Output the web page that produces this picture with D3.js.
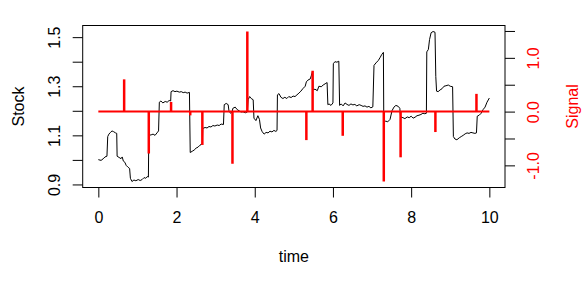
<!DOCTYPE html>
<html>
<head>
<meta charset="utf-8">
<script src="https://cdn.jsdelivr.net/npm/d3@7"></script>
<style>
  body { margin: 0; background: #fff; }
  text { font-family: "Liberation Sans", Arial, sans-serif; font-size: 16px; }
</style>
</head>
<body>
<svg></svg>
<script>
// stock price path, [time, value]
const stockSeries = [
  [0.00, 1.001], [0.07, 0.998], [0.12, 1.004], [0.17, 1.012], [0.22, 1.015], [0.24, 1.095],
  [0.27, 1.105], [0.31, 1.112], [0.35, 1.118], [0.39, 1.115], [0.44, 1.110], [0.47, 1.108],
  [0.48, 1.015], [0.53, 1.010], [0.58, 1.005], [0.61, 1.012], [0.64, 0.995], [0.68, 0.990],
  [0.71, 0.978], [0.76, 0.970], [0.80, 0.965], [0.82, 0.925], [0.86, 0.912], [0.91, 0.918],
  [0.96, 0.915], [1.02, 0.920], [1.07, 0.916], [1.12, 0.920], [1.17, 0.928], [1.21, 0.925],
  [1.25, 0.932], [1.28, 0.930], [1.29, 1.100], [1.35, 1.102], [1.40, 1.105], [1.45, 1.100],
  [1.50, 1.110], [1.54, 1.118], [1.56, 1.235], [1.60, 1.240], [1.65, 1.232], [1.71, 1.238],
  [1.76, 1.235], [1.81, 1.242], [1.85, 1.240], [1.86, 1.278], [1.91, 1.282], [1.96, 1.278],
  [2.01, 1.280], [2.07, 1.276], [2.12, 1.278], [2.17, 1.274], [2.22, 1.276], [2.27, 1.272],
  [2.33, 1.275], [2.35, 1.030], [2.40, 1.035], [2.45, 1.040], [2.50, 1.048], [2.55, 1.052],
  [2.60, 1.060], [2.66, 1.066], [2.67, 1.128], [2.73, 1.132], [2.78, 1.130], [2.83, 1.136],
  [2.88, 1.134], [2.93, 1.140], [2.98, 1.138], [3.04, 1.142], [3.09, 1.140], [3.14, 1.146],
  [3.20, 1.144], [3.22, 1.225], [3.27, 1.230], [3.32, 1.225], [3.34, 1.200], [3.38, 1.190],
  [3.42, 1.195], [3.44, 1.210], [3.50, 1.215], [3.55, 1.205], [3.60, 1.200], [3.65, 1.195],
  [3.70, 1.196], [3.76, 1.192], [3.81, 1.195], [3.83, 1.245], [3.87, 1.258], [3.91, 1.250],
  [3.96, 1.245], [3.98, 1.170], [4.03, 1.160], [4.08, 1.180], [4.12, 1.165], [4.15, 1.130],
  [4.19, 1.115], [4.24, 1.105], [4.29, 1.112], [4.34, 1.110], [4.39, 1.117], [4.44, 1.114],
  [4.49, 1.120], [4.54, 1.116], [4.57, 1.120], [4.58, 1.265], [4.62, 1.270], [4.67, 1.255],
  [4.72, 1.250], [4.77, 1.255], [4.82, 1.250], [4.87, 1.258], [4.93, 1.254], [4.98, 1.260],
  [5.03, 1.258], [5.08, 1.265], [5.13, 1.272], [5.18, 1.280], [5.23, 1.290], [5.29, 1.300],
  [5.32, 1.318], [5.36, 1.325], [5.42, 1.330], [5.45, 1.345], [5.48, 1.362], [5.49, 1.285],
  [5.54, 1.288], [5.60, 1.282], [5.64, 1.300], [5.70, 1.298], [5.75, 1.305], [5.80, 1.310],
  [5.85, 1.315], [5.87, 1.225], [5.90, 1.228], [5.95, 1.222], [6.00, 1.232], [6.01, 1.392],
  [6.05, 1.400], [6.10, 1.398], [6.15, 1.402], [6.17, 1.222], [6.21, 1.228], [6.26, 1.220],
  [6.31, 1.232], [6.36, 1.226], [6.41, 1.222], [6.46, 1.228], [6.51, 1.224], [6.56, 1.226],
  [6.61, 1.220], [6.67, 1.225], [6.72, 1.222], [6.77, 1.218], [6.82, 1.220], [6.87, 1.215],
  [6.92, 1.218], [6.97, 1.212], [7.02, 1.216], [7.05, 1.385], [7.10, 1.395], [7.16, 1.405],
  [7.21, 1.418], [7.25, 1.430], [7.29, 1.438], [7.30, 1.152], [7.35, 1.158], [7.40, 1.155],
  [7.46, 1.165], [7.51, 1.200], [7.56, 1.215], [7.61, 1.222], [7.67, 1.218], [7.71, 1.210],
  [7.73, 1.175], [7.79, 1.172], [7.84, 1.168], [7.90, 1.175], [7.95, 1.172], [8.00, 1.178],
  [8.05, 1.170], [8.10, 1.174], [8.15, 1.180], [8.20, 1.182], [8.25, 1.185], [8.30, 1.190],
  [8.35, 1.188], [8.39, 1.190], [8.40, 1.440], [8.44, 1.450], [8.47, 1.490], [8.51, 1.518],
  [8.56, 1.523], [8.61, 1.520], [8.63, 1.340], [8.65, 1.280], [8.69, 1.278], [8.74, 1.285],
  [8.79, 1.290], [8.84, 1.300], [8.89, 1.302], [8.95, 1.305], [9.00, 1.300], [9.06, 1.298],
  [9.08, 1.095], [9.12, 1.085], [9.17, 1.082], [9.23, 1.090], [9.28, 1.095], [9.33, 1.100],
  [9.38, 1.106], [9.43, 1.110], [9.48, 1.108], [9.53, 1.112], [9.58, 1.110], [9.63, 1.108],
  [9.67, 1.110], [9.69, 1.178], [9.74, 1.182], [9.79, 1.190], [9.84, 1.205], [9.89, 1.215],
  [9.94, 1.235], [10.00, 1.252]
];

// signal spikes
const signalTime  = [0.66, 1.29, 1.86, 2.35, 2.66, 3.43, 3.81, 5.32, 5.48, 6.25, 7.30, 7.73, 8.62, 9.67];
const signalValue = [0.60, -0.78, 0.18, -0.07, -0.62, -0.97, 1.49, -0.53, 0.76, -0.45, -1.30, -0.85, -0.38, 0.33];
const timeRange = [0, 10];

// axis ticks
const xTicks = [0, 2, 4, 6, 8, 10];
const leftTicks = [0.9, 1.0, 1.1, 1.2, 1.3, 1.4, 1.5];
const leftLabels = ['0.9', '', '1.1', '', '1.3', '', '1.5'];
const rightTicks = [-1.0, -0.5, 0.0, 0.5, 1.0, 1.5];
const rightLabels = ['-1.0', '', '0.0', '', '1.0', ''];

const W = 588, H = 290;
const box = { left: 82.7, right: 505, top: 25.5, bottom: 187.5 };

const svg = d3.select('svg')
    .attr('width', W)
    .attr('height', H);

// R style 4% padding on each side
function pad(ext) {
    const d = (ext[1] - ext[0]) * 0.04;
    return [ext[0] - d, ext[1] + d];
}

const x = d3.scaleLinear().domain(pad(timeRange)).range([box.left, box.right]);
const yL = d3.scaleLinear().domain(pad(d3.extent(stockSeries, d => d[1]))).range([box.bottom, box.top]);
const yR = d3.scaleLinear().domain(pad(d3.extent(signalValue))).range([box.bottom, box.top]);

// stock line
svg.append('path')
    .datum(stockSeries)
    .attr('fill', 'none')
    .attr('stroke', '#000')
    .attr('stroke-width', 1)
    .attr('d', d3.line().x(d => x(d[0])).y(d => yL(d[1])));

// signal baseline and spikes
svg.append('line')
    .attr('x1', x(timeRange[0])).attr('x2', x(timeRange[1]))
    .attr('y1', yR(0)).attr('y2', yR(0))
    .attr('stroke', '#ff0000')
    .attr('stroke-width', 2);

svg.selectAll('.spike')
    .data(signalTime)
    .join('line')
    .attr('class', 'spike')
    .attr('x1', d => x(d)).attr('x2', d => x(d))
    .attr('y1', yR(0))
    .attr('y2', (d, i) => yR(signalValue[i]))
    .attr('stroke', '#ff0000')
    .attr('stroke-width', 2.5);

// box
svg.append('rect')
    .attr('x', box.left).attr('y', box.top)
    .attr('width', box.right - box.left).attr('height', box.bottom - box.top)
    .attr('fill', 'none')
    .attr('stroke', '#000')
    .attr('stroke-width', 1);

// x axis
const gx = svg.append('g')
    .attr('transform', `translate(0,${box.bottom})`)
    .call(d3.axisBottom(x).tickValues(xTicks).tickSize(10).tickPadding(14).tickFormat(d3.format('d')));
gx.select('.domain').remove();
gx.selectAll('text').attr('font-size', 16).attr('font-family', null).attr('fill', '#000');
gx.selectAll('line').attr('stroke', '#000');

// left axis, labels rotated like R
const gl = svg.append('g')
    .attr('transform', `translate(${box.left},0)`)
    .call(d3.axisLeft(yL).tickValues(leftTicks).tickSize(10).tickFormat((d, i) => leftLabels[i]));
gl.select('.domain').remove();
gl.selectAll('line').attr('stroke', '#000');
gl.selectAll('text')
    .attr('font-size', 16).attr('font-family', null).attr('fill', '#000')
    .attr('x', null).attr('dy', null)
    .attr('text-anchor', 'middle')
    .attr('transform', 'translate(-22.5,0) rotate(-90)');

// right axis, red labels
const gr = svg.append('g')
    .attr('transform', `translate(${box.right},0)`)
    .call(d3.axisRight(yR).tickValues(rightTicks).tickSize(10).tickFormat((d, i) => rightLabels[i]));
gr.select('.domain').remove();
gr.selectAll('line').attr('stroke', '#000');
gr.selectAll('text')
    .attr('font-size', 16).attr('font-family', null).attr('fill', '#ff0000')
    .attr('x', null).attr('dy', null)
    .attr('text-anchor', 'middle')
    .attr('transform', 'translate(34,0) rotate(-90)');

// titles
svg.append('text')
    .attr('x', (box.left + box.right) / 2).attr('y', 262)
    .attr('text-anchor', 'middle')
    .text('time');

svg.append('text')
    .attr('transform', `translate(23.5,${(box.top + box.bottom) / 2}) rotate(-90)`)
    .attr('text-anchor', 'middle')
    .text('Stock');

svg.append('text')
    .attr('transform', `translate(577.5,${(box.top + box.bottom) / 2}) rotate(-90)`)
    .attr('text-anchor', 'middle')
    .attr('fill', '#ff0000')
    .text('Signal');
</script>
</body>
</html>
